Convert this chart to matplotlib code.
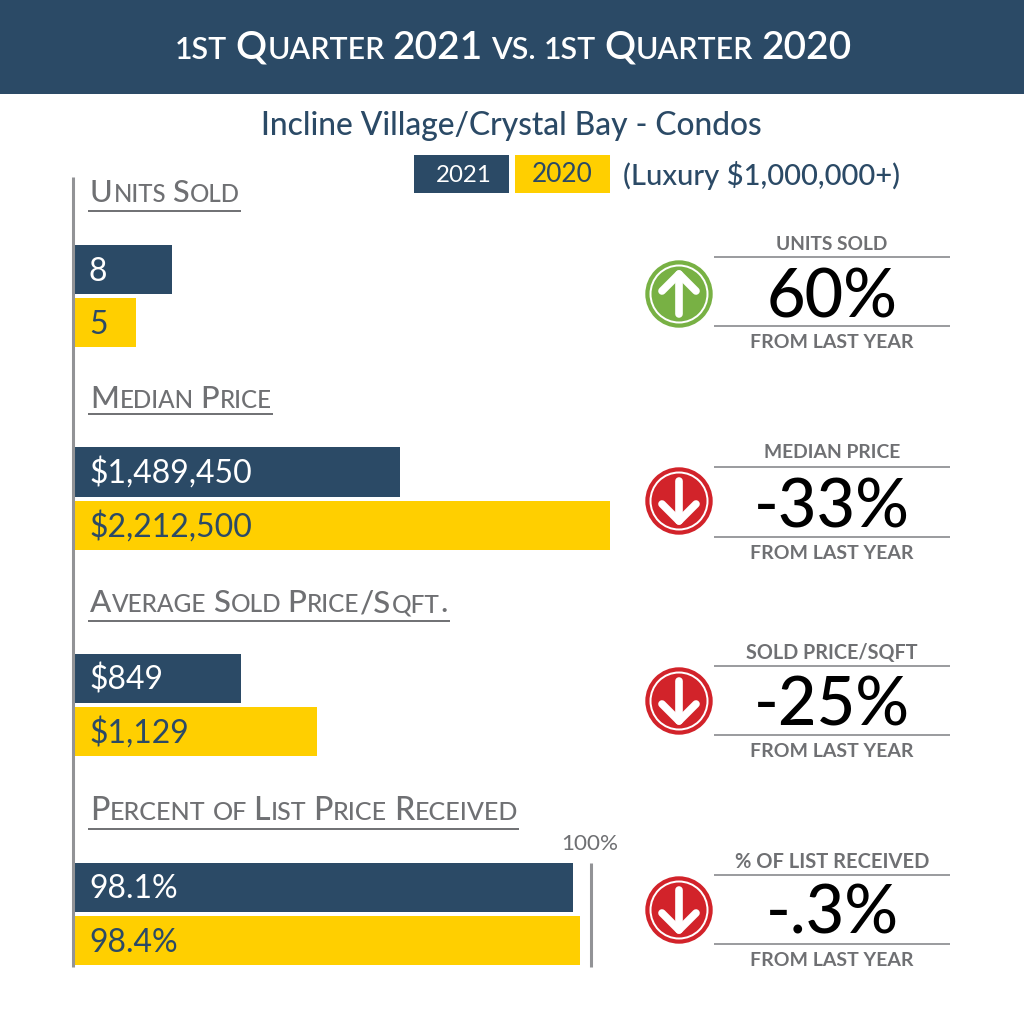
import matplotlib
matplotlib.use("Agg")
import matplotlib.pyplot as plt
from matplotlib.patches import Circle, Rectangle

plt.rcParams['font.family'] = ['Lato', 'DejaVu Sans']

NAVY = '#2b4a66'
GOLD = '#ffcf00'
GREY = '#6f7073'
RULE = '#929396'
GREEN = '#78b144'
RED = '#d2232a'

years = ['2021', '2020']
units_labels = ['8', '5']
units_values = [8, 5]
median_labels = ['$1,489,450', '$2,212,500']
median_values = [1344000, 2212500]   # as drawn in the picture
sqft_labels = ['$849', '$1,129']
sqft_values = [775, 1129]            # as drawn in the picture
pct_labels = ['98.1%', '98.4%']
pct_values = [96.5, 97.9]            # as drawn in the picture
headings = ['Units Sold', 'Median Price', 'Average Sold Price/Sqft.', 'Percent of List Price Received']
stat_titles = ['UNITS SOLD', 'MEDIAN PRICE', 'SOLD PRICE/SQFT', '% OF LIST RECEIVED']
stat_values = ['60%', '-33%', '-25%', '-.3%']
stat_up = [True, False, False, False]

fig = plt.figure(figsize=(10.24, 10.24), dpi=100, facecolor='white')
W = H = 1024.0


def panel(cy1, cy2, xmax, values):
    top, bottom = cy1 - 26.5, cy2 + 26.5
    ax = fig.add_axes([75 / W, 1 - bottom / H, 535 / W, (bottom - top) / H])
    ax.barh([0, 1], values, height=0.925, color=[NAVY, GOLD], linewidth=0)
    ax.set_xlim(0, xmax)
    ax.set_ylim(1.5, -0.5)
    ax.axis('off')
    return ax


panel(270, 322.5, 535 / 12.1, units_values)
panel(472, 525.5, 2212500, median_values)
panel(678.5, 731.5, 1129 * 535 / 242, sqft_values)
pct_ax = panel(887.5, 940.5, 100 * 535 / 516, pct_values)
pct_ax.vlines(100, -0.47, 1.5, color=RULE, linewidth=2.2, clip_on=False)

ov = fig.add_axes([0, 0, 1, 1], facecolor='none')
ov.set_xlim(0, W)
ov.set_ylim(H, 0)
ov.axis('off')
renderer = fig.canvas.get_renderer()


def width_of(s, size, **kw):
    t = ov.text(0, 500, s, fontsize=size, **kw)
    w = t.get_window_extent(renderer).width
    t.remove()
    return w


def fit(x, y, s, target, color, ha='left', size0=24, **kw):
    size = size0 * target / width_of(s, size0, **kw)
    return ov.text(x, y, s, fontsize=size, color=color, ha=ha, va='baseline', **kw)


def caps_runs(s):
    runs, cur, big = [], '', None
    for ch in s:
        b = not ch.islower()
        if ch == ' ':
            if cur:
                runs.append((cur, big))
            runs.append((' ', True))
            cur, big = '', None
            continue
        if big is None or b == big:
            cur += ch
            big = b
        else:
            runs.append((cur, big))
            cur, big = ch, b
    if cur:
        runs.append((cur, big))
    return [(r.upper(), b) for r, b in runs]


def small_caps(x0, x1, y, runs, color, ratio=0.78, gap=0.26, **kw):
    def total(size):
        w = 0
        for r, b in runs:
            sz = size if b else size * ratio
            w += size * gap if r == ' ' else width_of(r, sz, **kw) + size * 0.03
        return w
    size = 30 * (x1 - x0) / total(30)
    x = x0
    for r, b in runs:
        sz = size if b else size * ratio
        if r == ' ':
            x += size * gap
            continue
        ov.text(x, y, r, fontsize=sz, color=color, ha='left', va='baseline', **kw)
        x += width_of(r, sz, **kw) + size * 0.03


# header
ov.add_patch(Rectangle((0, 0), W, 94, color=NAVY, linewidth=0))
q = [('1ST', False), (' ', True), ('Q', True), ('UARTER', False), (' ', True), ('2021', True), (' ', True),
     ('VS.', False), (' ', True), ('1ST', False), (' ', True), ('Q', True), ('UARTER', False), (' ', True), ('2020', True)]
small_caps(175, 849, 59, q, 'white', weight='semibold')
fit(261, 135, 'Incline Village/Crystal Bay - Condos', 503, NAVY, weight='medium')

# legend
ov.add_patch(Rectangle((414, 155), 95, 38, color=NAVY, linewidth=0))
ov.add_patch(Rectangle((515, 155), 95, 38, color=GOLD, linewidth=0))
fit(464, 182, years[0], 56, 'white', ha='center')
fit(562, 182, years[1], 61, NAVY, ha='center')
fit(623, 185, '(Luxury $1,000,000+)', 277, NAVY, weight='medium')

# left axis line
ov.plot([73, 73], [177, 967], color=RULE, linewidth=2.2, solid_capstyle='butt')

# headings
head_x1 = [240, 272, 449, 518]
head_base = [202, 408, 612, 820]
head_rule = [211, 414, 621, 829]
for s, x1, b, r in zip(headings, head_x1, head_base, head_rule):
    small_caps(90, x1, b, caps_runs(s), GREY, weight='medium')
    ov.plot([88, x1 + 1], [r, r], color=GREY, linewidth=1.4, solid_capstyle='butt')

# value labels
centers = [(270, 322.5), (472, 525.5), (678.5, 731.5), (887.5, 940.5)]
labels = [units_labels, median_labels, sqft_labels, pct_labels]
for (c1, c2), (a, b) in zip(centers, labels):
    ov.text(89, c1 + 11, a, fontsize=23, color='white', ha='left', va='baseline')
    ov.text(89, c2 + 11, b, fontsize=23, color=NAVY, ha='left', va='baseline')

fit(561, 850, '100%', 57, GREY)

# right-hand statistics
icon_y = [294, 501, 701, 910]
title_base = [249.5, 458, 659, 868]
rule1 = [257, 467, 666, 875]
big_base = [317, 527, 726, 934]
rule2 = [326, 537, 735, 944]
foot_base = [348, 559, 757, 966]
title_w = [112, 137, 171, 194]
for i in range(4):
    col = GREEN if stat_up[i] else RED
    cy = icon_y[i]
    ov.add_patch(Circle((679, cy), 33.7, color=col, linewidth=0))
    ov.add_patch(Circle((679, cy), 29.5, color='white', linewidth=0))
    ov.add_patch(Circle((679, cy), 27.5, color=col, linewidth=0))
    d = -1 if stat_up[i] else 1
    ov.plot([679, 679], [cy - d * 20, cy + d * 20], color='white', linewidth=5.5, solid_capstyle='round')
    ov.plot([662, 679, 696], [cy + d * 3, cy + d * 20, cy + d * 3], color='white', linewidth=5.5,
            solid_capstyle='round', solid_joinstyle='round')
    ov.plot([714, 950], [rule1[i], rule1[i]], color=RULE, linewidth=1.3, solid_capstyle='butt')
    ov.plot([714, 950], [rule2[i], rule2[i]], color=RULE, linewidth=1.3, solid_capstyle='butt')
    fit(832, title_base[i], stat_titles[i], title_w[i], GREY, ha='center', weight='bold')
    ov.text(832, big_base[i], stat_values[i], fontsize=48, color='black', ha='center', va='baseline', weight='medium')
    fit(832, foot_base[i], 'FROM LAST YEAR', 163, GREY, ha='center', weight='bold')

fig.savefig('out.png', dpi=100, facecolor='white')
